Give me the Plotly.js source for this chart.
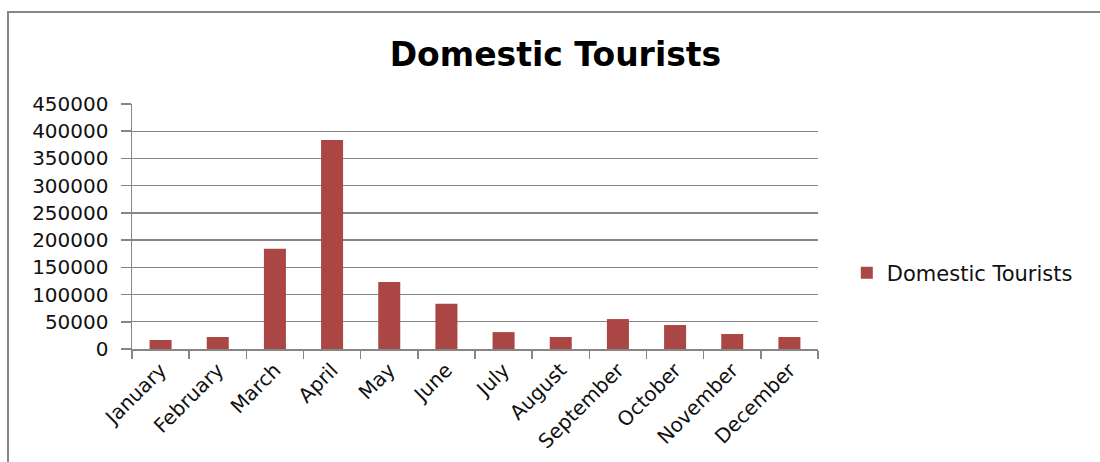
<!DOCTYPE html>
<html>
<head>
<meta charset="utf-8">
<script src="https://cdn.plot.ly/plotly-3.0.1.min.js"></script>
<style>
  html, body { margin: 0; padding: 0; background: #fff; }
  #wrap { position: relative; width: 1100px; height: 462px; }
  #chart { position: absolute; left: 0; top: 0; width: 1100px; height: 462px; }
  #frameTop { position: absolute; left: 7px; top: 11px; width: 1093px; height: 2px; background: #868686; pointer-events: none; }
  #frameLeft { position: absolute; left: 7px; top: 11px; width: 2px; height: 451px; background: #868686; pointer-events: none; }
</style>
</head>
<body>
<div id="wrap">
  <div id="chart"></div>
  <div id="frameTop"></div>
  <div id="frameLeft"></div>
</div>
<script>
const months = ["January", "February", "March", "April", "May", "June", "July",
                "August", "September", "October", "November", "December"];
const domesticTourists = [16500, 22000, 184000, 384000, 123000, 83000, 31000,
                          22000, 55000, 44000, 27500, 22000];
const yTickValues = [0, 50000, 100000, 150000, 200000, 250000, 300000, 350000, 400000, 450000];
const seriesName = "Domestic Tourists";
const chartTitle = "Domestic Tourists";

const trace = {
  type: "bar",
  x: months,
  y: domesticTourists,
  name: seriesName,
  marker: { color: "#AA4643" },
  showlegend: true
};

const layout = {
  width: 1100,
  height: 462,
  paper_bgcolor: "#ffffff",
  plot_bgcolor: "#ffffff",
  margin: { l: 132, r: 282, t: 104, b: 113 },
  bargap: 0.615,
  title: {
    text: "<b>" + chartTitle + "</b>",
    x: 0.505,
    xanchor: "center",
    y: 0.883,
    yanchor: "middle",
    font: { family: "DejaVu Sans, Verdana, sans-serif", size: 33, color: "#000000" }
  },
  xaxis: {
    type: "category",
    tickangle: -45,
    tickson: "boundaries",
    ticks: "outside",
    ticklen: 8,
    tickcolor: "#868686",
    tickwidth: 1.5,
    showline: true,
    linecolor: "#868686",
    linewidth: 1.5,
    showgrid: false,
    tickfont: { family: "DejaVu Sans, Verdana, sans-serif", size: 20, color: "#111111" },
    fixedrange: true
  },
  yaxis: {
    range: [0, 450000],
    tickmode: "array",
    tickvals: yTickValues,
    ticktext: yTickValues.map(String),
    ticks: "outside",
    ticklen: 10,
    tickcolor: "#868686",
    tickwidth: 1.5,
    ticklabelstandoff: 8,
    showline: true,
    linecolor: "#868686",
    linewidth: 1.5,
    showgrid: true,
    gridcolor: "#868686",
    gridwidth: 1.3,
    zeroline: false,
    tickfont: { family: "DejaVu Sans, Verdana, sans-serif", size: 20, color: "#111111" },
    fixedrange: true
  },
  legend: {
    x: 1.042,
    xanchor: "left",
    y: 0.31,
    yanchor: "middle",
    font: { family: "DejaVu Sans, Verdana, sans-serif", size: 21, color: "#111111" },
    bgcolor: "rgba(0,0,0,0)"
  }
};

Plotly.newPlot("chart", [trace], layout, { displayModeBar: false, staticPlot: true });
</script>
</body>
</html>
